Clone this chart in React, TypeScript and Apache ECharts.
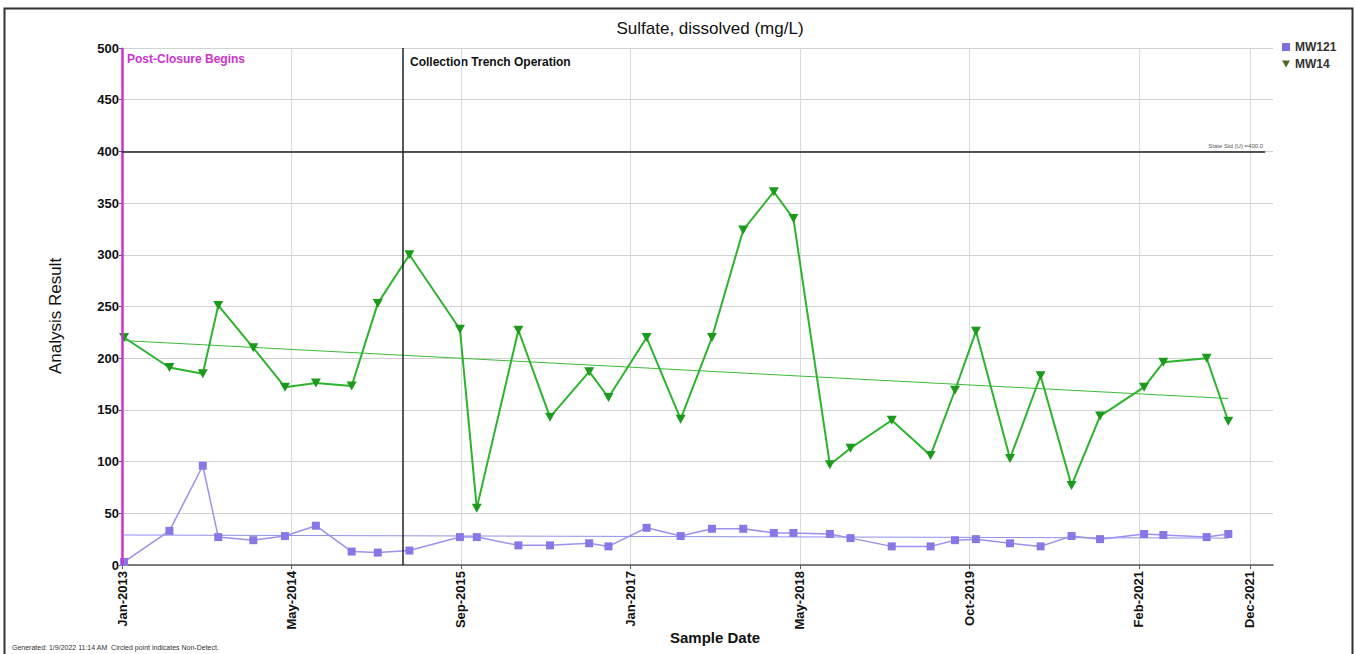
import React, { useEffect, useRef } from 'react';
import * as echarts from 'echarts';

const START = Date.UTC(2013, 0, 1);
const DAY = 86400000;
const MONTHS = ['Jan', 'Feb', 'Mar', 'Apr', 'May', 'Jun', 'Jul', 'Aug', 'Sep', 'Oct', 'Nov', 'Dec'];
const toDay = (s: string) => {
  const [y, m, d] = s.split('-').map(Number);
  return (Date.UTC(y, m - 1, d) - START) / DAY;
};
const fmtDay = (v: number) => {
  const d = new Date(START + v * DAY);
  return MONTHS[d.getUTCMonth()] + '-' + d.getUTCFullYear();
};

// ---- data ----
const sampleDates = [
  '2013-01-07', '2013-05-19', '2013-08-24', '2013-10-08', '2014-01-18', '2014-04-20',
  '2014-07-19', '2014-10-31', '2015-01-15', '2015-04-17', '2015-09-11', '2015-10-30',
  '2016-02-28', '2016-05-30', '2016-09-21', '2016-11-16', '2017-03-07', '2017-06-14',
  '2017-09-13', '2017-12-13', '2018-03-12', '2018-05-08', '2018-08-22', '2018-10-21',
  '2019-02-18', '2019-06-11', '2019-08-21', '2019-10-21', '2020-01-28', '2020-04-26',
  '2020-07-25', '2020-10-16', '2021-02-21', '2021-04-18', '2021-08-22', '2021-10-24',
];
const mw14 = [
  220, 191, 185, 251, 210, 172, 176, 173, 253, 300, 228, 55,
  227, 143, 187, 162, 220, 141, 220, 324, 361, 335, 97, 113,
  140, 106, 169, 226, 103, 183, 77, 144, 172, 196, 200, 139,
];
const mw121 = [
  3, 33, 96, 27, 24, 28, 38, 13, 12, 14, 27, 27,
  19, 19, 21, 18, 36, 28, 35, 35, 31, 31, 30, 26,
  18, 18, 24, 25, 21, 18, 28, 25, 30, 29, 27, 30,
];
const trendMW14 = [217, 161];
const trendMW121 = [29, 26];
const tickDates = ['2013-01-01', '2014-05-09', '2015-09-14', '2017-01-19', '2018-05-27', '2019-10-02', '2021-02-06', '2021-12-26'];
const axisStart = '2013-01-01';
const axisEnd = '2022-03-03';
const tickIntervalDays = 493;
const postClosureDate = '2013-01-01';
const trenchDate = '2015-03-30';
const standardValue = 400;
const standardEnd = '2022-02-08';
const standardLabel = 'State Std (U) =400.0';
const yTicks = { min: 0, max: 500, interval: 50 };

const FONT = '"Liberation Sans", Arial, sans-serif';
const NARROW = '"Liberation Sans Narrow", "Arial Narrow", "Liberation Sans", sans-serif';

export default function App() {
  const ref = useRef<HTMLDivElement>(null);
  useEffect(() => {
    if (!ref.current) return;
    const chart = echarts.init(ref.current, null, { renderer: 'svg' });
    const first = sampleDates[0];
    const last = sampleDates[sampleDates.length - 1];
    const option: any = {
      animation: false,
      backgroundColor: '#fff',
      grid: { left: 122, right: 82, top: 48, bottom: 89 },
      legend: {
        orient: 'vertical',
        left: 1282,
        top: 41,
        padding: 0,
        itemWidth: 8,
        itemHeight: 8,
        itemGap: 5,
        textStyle: { fontFamily: FONT, fontWeight: 'bold', fontSize: 12, color: '#333' },
        data: [
          { name: 'MW121', icon: 'rect', itemStyle: { color: '#7e70d8' } },
          { name: 'MW14', icon: 'path://M0,0L10,0L5,9Z', itemStyle: { color: '#4f6b2a' } },
        ],
      },
      xAxis: {
        type: 'value',
        min: toDay(axisStart),
        max: toDay(axisEnd),
        interval: tickIntervalDays,
        axisLine: { show: true, lineStyle: { color: '#555', width: 1.5 } },
        axisTick: { show: true, length: 4, customValues: tickDates.map(toDay), lineStyle: { color: '#555' } },
        axisLabel: {
          rotate: 90,
          margin: 6,
          customValues: tickDates.map(toDay),
          formatter: (v: number) => fmtDay(v),
          fontFamily: FONT,
          fontWeight: 'bold',
          fontSize: 13,
          color: '#111',
        },
        splitLine: { show: true, lineStyle: { color: '#dadada', width: 1 } },
      },
      yAxis: {
        type: 'value',
        min: yTicks.min,
        max: yTicks.max,
        interval: yTicks.interval,
        axisLine: { show: true, lineStyle: { color: '#555', width: 1 } },
        axisTick: { show: true, length: 3, lineStyle: { color: '#555' } },
        axisLabel: { margin: 3, fontFamily: FONT, fontWeight: 'bold', fontSize: 13, color: '#111' },
        splitLine: { show: true, lineStyle: { color: '#d2d2d2', width: 1 } },
      },
      series: [
        {
          name: 'MW121 trend',
          type: 'line',
          silent: true,
          symbol: 'none',
          data: [[toDay(first), trendMW121[0]], [toDay(last), trendMW121[1]]],
          lineStyle: { color: '#9090ee', width: 1 },
          z: 2,
        },
        {
          name: 'MW14 trend',
          type: 'line',
          silent: true,
          symbol: 'none',
          data: [[toDay(first), trendMW14[0]], [toDay(last), trendMW14[1]]],
          lineStyle: { color: '#3cbc3c', width: 1 },
          z: 2,
        },
        {
          name: 'MW121',
          type: 'line',
          symbol: 'rect',
          symbolSize: 8,
          showAllSymbol: true,
          data: sampleDates.map((d, i) => [toDay(d), mw121[i]]),
          itemStyle: { color: '#8878e6' },
          lineStyle: { color: '#9a92ee', width: 1.5 },
          z: 3,
          markLine: {
            silent: true,
            symbol: 'none',
            animation: false,
            data: [
              {
                xAxis: toDay(postClosureDate),
                lineStyle: { color: '#cc33cc', width: 2.5, type: 'solid' },
                label: { show: false },
              },
              {
                xAxis: toDay(trenchDate),
                lineStyle: { color: '#222', width: 1.5, type: 'solid' },
                label: { show: false },
              },
              [
                {
                  coord: [toDay(axisStart), standardValue],
                  lineStyle: { color: '#222', width: 1.5, type: 'solid' },
                  label: {
                    show: true,
                    position: 'insideEndTop',
                    formatter: standardLabel,
                    fontFamily: FONT,
                    fontSize: 6,
                    color: '#555',
                    distance: 2,
                  },
                },
                { coord: [toDay(standardEnd), standardValue] },
              ],
            ],
          },
        },
        {
          name: 'MW14',
          type: 'line',
          symbol: 'triangle',
          symbolRotate: 180,
          symbolSize: [10, 9],
          showAllSymbol: true,
          data: sampleDates.map((d, i) => [toDay(d), mw14[i]]),
          itemStyle: { color: '#1c9a1c' },
          lineStyle: { color: '#2cb42c', width: 2 },
          z: 4,
        },
      ],
      graphic: [
        {
          type: 'rect',
          silent: true,
          shape: { x: 4.5, y: 8.5, width: 1348, height: 660 },
          style: { fill: 'none', stroke: '#333', lineWidth: 2 },
          z: 100,
        },
        {
          type: 'text',
          x: 710,
          y: 28,
          style: { text: 'Sulfate, dissolved (mg/L)', fontFamily: FONT, fontSize: 17, fill: '#111', align: 'center', verticalAlign: 'middle' },
        },
        {
          type: 'text',
          x: 55,
          y: 316,
          rotation: Math.PI / 2,
          style: { text: 'Analysis Result', fontFamily: FONT, fontSize: 17, fill: '#111', align: 'center', verticalAlign: 'middle' },
        },
        {
          type: 'text',
          x: 715,
          y: 637,
          style: { text: 'Sample Date', fontFamily: FONT, fontWeight: 'bold', fontSize: 15, fill: '#111', align: 'center', verticalAlign: 'middle' },
        },
        {
          type: 'text',
          x: 127,
          y: 59,
          style: { text: 'Post-Closure Begins', fontFamily: NARROW, fontWeight: 'bold', fontSize: 12, fill: '#cc33cc', align: 'left', verticalAlign: 'middle' },
        },
        {
          type: 'text',
          x: 410,
          y: 62,
          style: { text: 'Collection Trench Operation', fontFamily: NARROW, fontWeight: 'bold', fontSize: 12, fill: '#111', align: 'left', verticalAlign: 'middle' },
        },
        {
          type: 'text',
          x: 12,
          y: 647,
          style: { text: 'Generated: 1/9/2022 11:14 AM  Circled point indicates Non-Detect.', fontFamily: FONT, fontSize: 7, fill: '#333', align: 'left', verticalAlign: 'middle' },
        },
      ],
    };
    chart.setOption(option);
    return () => chart.dispose();
  }, []);
  return (
    <div
      ref={ref}
      style={{ position: 'fixed', left: 0, top: 0, width: 1355, height: 654, background: '#fff' }}
    />
  );
}
